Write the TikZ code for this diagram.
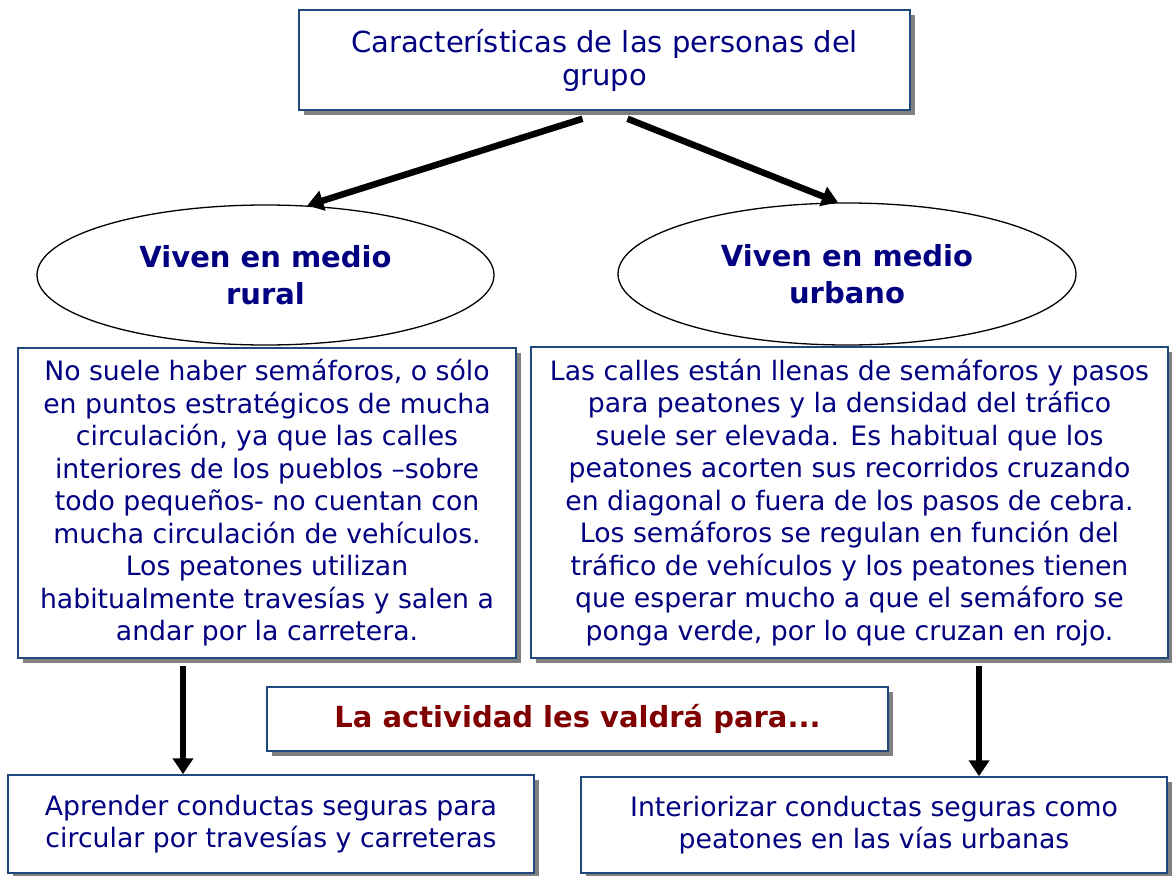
\documentclass[tikz,border=0pt]{standalone}
\usepackage{fontspec}
\setmainfont{DejaVu Sans}
\usetikzlibrary{arrows.meta,shapes.geometric,shadows}
\definecolor{boxblue}{RGB}{31,73,125}
\definecolor{txtblue}{RGB}{0,0,128}
\definecolor{txtred}{RGB}{128,0,0}
\definecolor{shadowgray}{RGB}{128,128,128}
\begin{document}
\begin{tikzpicture}[x=1pt, y=-1pt,
    every node/.style={align=center, text=txtblue, font=\fontsize{26.7}{32.5}\selectfont, inner sep=0pt},
    big/.style={font=\fontsize{29}{33}\selectfont},
    box/.style={draw=boxblue, line width=1.5pt, fill=white, drop shadow={shadow xshift=5pt, shadow yshift=-5pt, fill=shadowgray, opacity=1}},
    oval/.style={ellipse, draw=black, line width=1.3pt, fill=white, font=\fontsize{29}{37}\selectfont\bfseries},
    arr/.style={line width=6.5pt, -{Triangle[width=20pt,length=16pt]}}]

    \useasboundingbox (0,0) rectangle (1172,875);

    \node[box, big, minimum width=611, minimum height=100] (root) at (604.5,60) {Características de las personas del\\grupo};

    \node[oval, minimum width=457, minimum height=140] (rural) at (265.5,275) {Viven en medio\\rural};
    \node[oval, minimum width=458, minimum height=142] (urban) at (847,274) {Viven en medio\\urbano};

    \node[box, minimum width=498, minimum height=310] (rural_txt) at (267,503)
        {No suele haber semáforos, o sólo\\
         en puntos estratégicos de mucha\\
         circulación, ya que las calles\\
         interiores de los pueblos –sobre\\
         todo pequeños- no cuentan con\\
         mucha circulación de vehículos.\\
         Los peatones utilizan\\
         habitualmente travesías y salen a\\
         andar por la carretera.};
    \node[box, minimum width=637, minimum height=311] (urban_txt) at (849.5,502.5)
        {Las calles están llenas de semáforos y pasos\\
         para peatones y la densidad del tráfico\\
         suele ser elevada. Es habitual que los\\
         peatones acorten sus recorridos cruzando\\
         en diagonal o fuera de los pasos de cebra.\\
         Los semáforos se regulan en función del\\
         tráfico de vehículos y los peatones tienen\\
         que esperar mucho a que el semáforo se\\
         ponga verde, por lo que cruzan en rojo.};

    \node[box, minimum width=621, minimum height=64, text=txtred, font=\fontsize{29}{33}\selectfont\bfseries] (goal) at (577.5,719) {La actividad les valdrá para...};

    \node[box, minimum width=526, minimum height=98] (rural_aim) at (271,824) {Aprender conductas seguras para\\circular por travesías y carreteras};
    \node[box, minimum width=586, minimum height=96] (urban_aim) at (874,825) {Interiorizar conductas seguras como\\peatones en las vías urbanas};

    % arrows
    \draw[arr] ([xshift=-22pt,yshift=-8pt]root.south) -- (rural.59);
    \draw[arr] ([xshift=23pt,yshift=-8pt]root.south) -- ([xshift=-9pt]urban.north);
    \coordinate (rural_drop) at ([xshift=-84pt,yshift=-7pt]rural_txt.south);
    \coordinate (urban_drop) at ([xshift=129.5pt,yshift=-7pt]urban_txt.south);
    \draw[arr] (rural_drop) -- (rural_drop |- rural_aim.north);
    \draw[arr] (urban_drop) -- (urban_drop |- urban_aim.north);

\end{tikzpicture}
\end{document}
